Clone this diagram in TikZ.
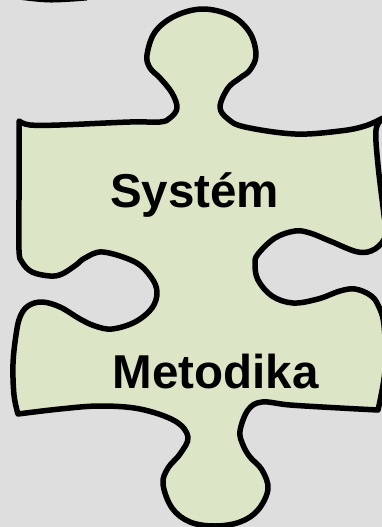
\documentclass[tikz,border=0pt]{standalone}
\usepackage{fontspec}
\setmainfont{Liberation Sans}
\definecolor{bgc}{HTML}{DEDEDE}
\definecolor{piecec}{HTML}{DCE5C5}
\tikzset{
 piece/.style={fill=piecec,draw=black,line width=5.5pt,line join=round},
 label/.style={font=\fontsize{47.5}{50}\selectfont\bfseries,text=black,anchor=base,inner sep=0pt}
}
\begin{document}
\begin{tikzpicture}[x=1pt,y=-1pt]
\path[fill=bgc,use as bounding box] (0,0) rectangle (382,527);
\begin{scope}
\clip (0,0) rectangle (382,527);
\draw[black,line width=5pt] plot[smooth,tension=0.6] coordinates {(18,-3) (50,0) (87,-2)};
\draw[piece] plot[smooth,tension=0.6] coordinates {(19,121) (30,125) (60,125) (130,122) (160,122) (170,118) (177,108) (172,93) (160,78) (150,68) (147,55) (155,32) (175,16) (203,9) (232,16) (250,33) (256,55) (250,70) (240,78) (228,88) (220,107) (228,119) (245,127) (295,134) (340,131) (365,126) (383,118)}
 -- plot[smooth,tension=0.6] coordinates {(383,118) (376,130) (378,165) (384,215) (386,235) (375,249) (358,252) (330,241) (310,233) (295,231) (275,238) (258,254) (255,264) (258,280) (272,296) (293,303) (318,299) (340,291) (355,289) (370,295) (378,305) (384,325) (385,370) (378,410)}
 -- plot[smooth,tension=0.6] coordinates {(378,410) (340,408) (290,405) (262,402) (248,410) (240,431) (243,445) (250,457) (262,470) (268,489) (258,510) (240,522) (215,526) (190,522) (172,508) (163,484) (168,468) (180,454) (188,437) (175,421) (140,409) (100,406) (60,409) (18,414)}
 -- plot[smooth,tension=0.6] coordinates {(18,414) (14,395) (13,364) (16,335) (20,317) (28,306) (42,302) (60,307) (80,319) (95,326) (112,329) (135,322) (152,308) (157,292) (151,277) (135,262) (103,252) (85,258) (76,265) (62,274) (50,276) (32,272) (22,262) (19,250) (19,200) (19,121)}
 -- cycle;
\end{scope}
\node[label] (sys) at (194.5,207) {Systém};
\node[label] (met) at (215.5,388) {Metodika};
\end{tikzpicture}
\end{document}
